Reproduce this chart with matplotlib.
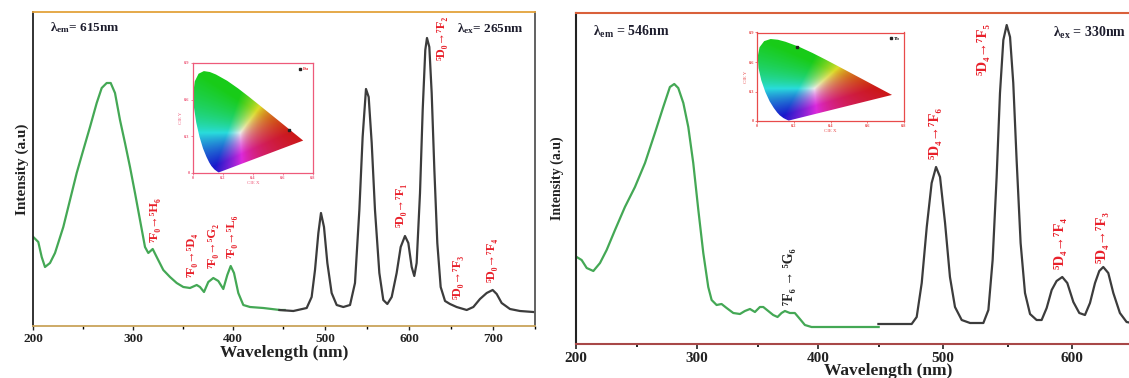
import numpy as np
import matplotlib
matplotlib.use('Agg')
import matplotlib.pyplot as plt
from matplotlib.path import Path
from matplotlib.patches import PathPatch

plt.rcParams['font.family'] = ['Liberation Serif', 'DejaVu Serif']
plt.rcParams['font.weight'] = 'bold'
plt.rcParams['mathtext.fontset'] = 'custom'
plt.rcParams['mathtext.rm'] = 'Liberation Serif:bold'
plt.rcParams['mathtext.it'] = 'Liberation Serif:italic:bold'
plt.rcParams['mathtext.bf'] = 'Liberation Serif:bold'

# ---------------- data ----------------
# Eu panel: excitation (lambda_em = 615 nm)
eu_exc_wl = [200.3, 205.3, 208.7, 212, 217, 222, 230.3, 237, 243.7, 250.3, 257, 263.7,
             268.7, 273.7, 277.7, 282, 287, 292, 297, 302, 307, 312, 315.3, 319.7,
             323.7, 330.3, 337, 343.7, 350.3, 357, 363.7, 367, 371, 375.3, 380.3,
             385.3, 390.3, 394.3, 397.7, 401, 405.3, 410.3, 417, 430.3, 447, 452]
eu_exc_int = [89, 84, 69, 59, 63, 73, 99, 126, 153, 176, 199, 223,
              238, 243, 243, 233, 206, 183, 159, 133, 106, 79, 73, 77,
              69, 56, 49, 43, 39, 38, 41, 39, 34, 44, 48,
              45, 37, 51, 60, 53, 33, 21, 19, 18, 16, 16]
# Eu panel: emission (lambda_ex = 265 nm)
eu_em_wl = [446.4, 462.3, 478.2, 484.1, 488.1, 492.1, 495.2, 498.8, 502.8, 507.9, 513.9,
            521.8, 529.8, 535.7, 540.9, 544.8, 548.8, 552, 555.6, 559.5, 564.7, 569.4,
            574.2, 579.4, 585.3, 590.1, 595.2, 599.2, 603.2, 606.3, 609.1, 613.1, 616.3,
            619.4, 621.4, 624.2, 627, 630.2, 633.7, 637.7, 642.9, 648.8, 656.7, 668.7,
            676.6, 684.5, 692.5, 699.6, 704.4, 710.3, 720.2, 732.1, 748]
eu_em_int = [16, 15, 18, 29, 56, 93, 113, 99, 63, 33, 21,
             19, 21, 43, 116, 189, 237, 229, 183, 116, 53, 26,
             22, 29, 53, 79, 90, 83, 59, 50, 63, 133, 216,
             276, 288, 279, 233, 156, 83, 39, 25, 22, 19, 16,
             19, 27, 33, 36, 32, 23, 17, 15, 14]
# Tb panel: excitation (lambda_em = 546 nm)
tb_exc_wl = [200.3, 204.4, 208.6, 214.1, 219.6, 225.1, 232, 240.2, 248.5, 256.8, 265,
             271.9, 277.4, 281, 284.3, 288.5, 292.6, 296.7, 300.9, 305, 309.1, 311.9,
             316, 320.1, 324.3, 329.8, 335.3, 339.4, 343.6, 347.7, 351.8, 354.6, 358.7,
             362.8, 366.4, 369.7, 372.5, 376.6, 380.7, 384.9, 389, 394.5, 409.7, 450]
tb_exc_int = [87, 84, 76, 73, 81, 94, 114, 137, 157, 181, 211,
              237, 257, 260, 256, 241, 217, 181, 134, 91, 57, 44,
              39, 40, 36, 31, 30, 33, 35, 32, 37, 37, 33,
              29, 27, 31, 33, 31, 31, 25, 19, 17, 17, 17]
# Tb panel: emission (lambda_ex = 330 nm)
tb_em_wl = [449.8, 464, 475.6, 479.5, 483.4, 487.3, 491.1, 494.5, 497.6, 501.5, 505.3,
            509.2, 514.4, 520.9, 531.2, 535.1, 538.4, 541.5, 544.1, 546.7, 549.3, 551.9,
            554.4, 557, 560.1, 563.5, 567.4, 572.5, 576.4, 580.3, 584.2, 588, 592.4,
            596.3, 601, 605.6, 610, 613.9, 617.8, 621.1, 624.2, 628.1, 632, 637.1,
            642.3, 650]
tb_em_int = [20, 20, 20, 27, 61, 117, 161, 177, 167, 121, 67,
             37, 24, 21, 21, 34, 84, 167, 251, 304, 319, 307,
             261, 184, 101, 51, 30, 24, 24, 36, 54, 63, 67,
             61, 42, 31, 29, 41, 61, 73, 77, 71, 51, 31,
             22, 20]

ticks_nm = [200, 300, 400, 500, 600, 700]
minor_nm = [250, 350, 450, 550, 650, 750]

eu_labels = [('⁷F₀→⁵H₆', 322, 106),
             ('⁷F₀→⁵D₄', 359, 71),
             ('⁷F₀→⁵G₂', 380, 80),
             ('⁷F₀→⁵L₆', 399, 90),
             ('⁵D₀→⁷F₁', 590.5, 121),
             ('⁵D₀→⁷F₂', 639, 288),
             ('⁵D₀→⁷F₃', 658, 49),
             ('⁵D₀→⁷F₄', 699, 66)]
tb_labels = [('⁵D₄→⁷F₆', 493.7, 211),
             ('⁵D₄→⁷F₅', 531, 295),
             ('⁵D₄→⁷F₄', 590.6, 101),
             ('⁵D₄→⁷F₃', 623.2, 107)]
tb_exc_label = ('⁷F₆ → ⁵G₆', 376.6, 67)

# CIE 1931 spectral locus (x, y)
locus_x = [0.1741, 0.1714, 0.1644, 0.1566, 0.1440, 0.1241, 0.1096, 0.0913, 0.0687, 0.0454,
           0.0235, 0.0082, 0.0039, 0.0139, 0.0389, 0.0743, 0.1142, 0.1547, 0.2296, 0.3016,
           0.3731, 0.4441, 0.5125, 0.5752, 0.6270, 0.6915, 0.7190, 0.7347]
locus_y = [0.0050, 0.0051, 0.0109, 0.0177, 0.0297, 0.0578, 0.0868, 0.1327, 0.2007, 0.2950,
           0.4127, 0.5384, 0.6548, 0.7502, 0.8120, 0.8338, 0.8262, 0.8059, 0.7543, 0.6923,
           0.6245, 0.5547, 0.4866, 0.4242, 0.3725, 0.3083, 0.2809, 0.2653]
eu_cie = (0.64, 0.35)
tb_cie = (0.22, 0.75)

GREEN = '#44a855'
GRAY = '#3c3c3c'
RED = '#e8202a'


def make_scale(brk, ratio):
    def fwd(x):
        x = np.asarray(x, float)
        return np.where(x <= brk, x, brk + (x - brk) * ratio)

    def inv(u):
        u = np.asarray(u, float)
        return np.where(u <= brk, u, brk + (u - brk) / ratio)
    return fwd, inv


def draw_cie(ax, pt, name, tcolor, frame):
    n = 220
    xs = np.linspace(0.0, 0.8, n)
    ys = np.linspace(0.0, 0.9, n)
    X, Y = np.meshgrid(xs, ys)
    Yd = np.maximum(Y, 1e-4)
    XYZ = np.stack([X / Yd, np.ones_like(X), (1 - X - Y) / Yd], -1)
    M = np.array([[3.2406, -1.5372, -0.4986],
                  [-0.9689, 1.8758, 0.0415],
                  [0.0557, -0.2040, 1.0570]])
    rgb = XYZ @ M.T
    rgb = np.clip(rgb, 0, None)
    rgb = rgb / np.clip(rgb.max(axis=-1, keepdims=True), 1e-6, None)
    rgb = rgb ** 0.9
    gray = rgb.mean(axis=-1, keepdims=True)
    rgb = 0.78 * rgb + 0.22 * gray
    rgb = np.clip(0.9 * rgb + 0.03, 0, 1)
    im = ax.imshow(rgb, origin='lower', extent=[0, 0.8, 0, 0.9], aspect='auto',
                   interpolation='bilinear')
    verts = np.column_stack([locus_x + [locus_x[0]], locus_y + [locus_y[0]]])
    patch = PathPatch(Path(verts, closed=True), transform=ax.transData,
                      facecolor='none', edgecolor='none')
    ax.add_patch(patch)
    im.set_clip_path(patch)
    ax.plot([pt[0]], [pt[1]], 's', ms=1.6, color='#222222', label=name)
    ax.set_xticks([0, 0.2, 0.4, 0.6, 0.8])
    ax.set_xticklabels(['0', '0.2', '0.4', '0.6', '0.8'])
    ax.set_yticks([0, 0.3, 0.6, 0.9])
    ax.set_yticklabels(['0', '0.3', '0.6', '0.9'])
    ax.set_xlim(0, 0.8)
    ax.set_ylim(0, 0.9)
    ax.tick_params(labelsize=3.2, colors=frame, length=1.2, width=0.5, pad=1)
    for s in ax.spines.values():
        s.set_color(frame)
        s.set_linewidth(0.9)
    ax.set_xlabel('CIE X', fontsize=3.5, color=frame, labelpad=0.5)
    ax.set_ylabel('CIE Y', fontsize=3.5, color=frame, labelpad=0.5)
    leg = ax.legend(loc='upper right', fontsize=3.6, frameon=False, handlelength=0.6,
                    handletextpad=0.3, borderpad=0.3, markerscale=1.0)
    for t in leg.get_texts():
        t.set_color(tcolor)


fig = plt.figure(figsize=(11.29, 3.78), dpi=100)

# ---------------- left panel (Eu) ----------------
axL = fig.add_axes([33 / 1129, 52 / 378, 502 / 1129, 314 / 378])
axL.set_xscale('function', functions=make_scale(450, 0.84))
axL.plot(eu_exc_wl, eu_exc_int, color=GREEN, lw=1.6)
axL.plot(eu_em_wl, eu_em_int, color=GRAY, lw=1.6)
axL.set_xticks(ticks_nm)
axL.set_xticks(minor_nm, minor=True)
axL.set_yticks([])
axL.set_xlim(200, 750)
axL.set_ylim(0, 314)
axL.tick_params(axis='x', labelsize=9.5, length=3, width=1, pad=2, colors='#222222')
axL.tick_params(axis='x', which='minor', length=2, width=1)
axL.set_xlabel('Wavelength (nm)', fontsize=12.5, fontweight='bold', labelpad=0, color='#222222')
axL.set_ylabel('Intensity (a.u)', fontsize=11, fontweight='bold', labelpad=3, color='#222222')
axL.spines['left'].set_color('#222222')
axL.spines['right'].set_color('#555555')
axL.spines['top'].set_color('#e3a23c')
axL.spines['bottom'].set_color('#c9a45a')
for s in axL.spines.values():
    s.set_linewidth(1.3)
for txt, x, y in eu_labels:
    axL.text(x, y, txt, rotation=90, color=RED, fontsize=9, ha='center', va='center')
axL.text(0.034, 0.949, 'λ$_{\\mathrm{em}}$= 615nm', transform=axL.transAxes,
         fontsize=9.5, color='#1e1e2e', va='center', ha='left')
axL.text(0.845, 0.946, 'λ$_{\\mathrm{ex}}$= 265nm', transform=axL.transAxes,
         fontsize=9.5, color='#1e1e2e', va='center', ha='left')

insL = fig.add_axes([192.7 / 1129, (378 - 173) / 378, 120.3 / 1129, 110 / 378])
draw_cie(insL, eu_cie, 'Eu', RED, '#ee5a7a')

# ---------------- right panel (Tb) ----------------
axR = fig.add_axes([576.3 / 1129, 34 / 378, 624.7 / 1129, 331 / 378])
axR.set_xscale('function', functions=make_scale(450, 1.29 / 1.21))
axR.plot(tb_exc_wl, tb_exc_int, color=GREEN, lw=1.6)
axR.plot(tb_em_wl, tb_em_int, color=GRAY, lw=1.6)
axR.set_xticks(ticks_nm)
axR.set_xticks(minor_nm[:-1], minor=True)
axR.set_yticks([])
axR.set_xlim(200, 700)
axR.set_ylim(0, 331)
axR.tick_params(axis='x', labelsize=11, length=3.5, width=1.2, pad=2, colors='#222222')
axR.tick_params(axis='x', which='minor', length=2.5, width=1.2)
axR.set_xlabel('Wavelength (nm)', fontsize=12.5, fontweight='bold', labelpad=-1, color='#222222')
axR.set_ylabel('Intensity (a.u)', fontsize=10, fontweight='bold', labelpad=9, color='#222222')
axR.spines['left'].set_color('#222222')
axR.spines['top'].set_color('#d9603a')
axR.spines['bottom'].set_color('#a84848')
for s in axR.spines.values():
    s.set_linewidth(1.5)
for txt, x, y in tb_labels:
    axR.text(x, y, txt, rotation=90, color=RED, fontsize=10.5, ha='center', va='center')
axR.text(tb_exc_label[1], tb_exc_label[2], tb_exc_label[0], rotation=90, color='#222222',
         fontsize=10, ha='center', va='center')
axR.text(0.027, 0.943, 'λ$_{\\mathrm{em}}$ = 546nm', transform=axR.transAxes,
         fontsize=10, color='#1e1e2e', va='center', ha='left')
axR.text(0.763, 0.94, 'λ$_{\\mathrm{ex}}$ = 330nm', transform=axR.transAxes,
         fontsize=10, color='#1e1e2e', va='center', ha='left')

insR = fig.add_axes([757 / 1129, (378 - 121) / 378, 147 / 1129, 88.5 / 378])
draw_cie(insR, tb_cie, 'Tb', '#222222', '#e84a4a')

fig.savefig('out.png', dpi=100)
